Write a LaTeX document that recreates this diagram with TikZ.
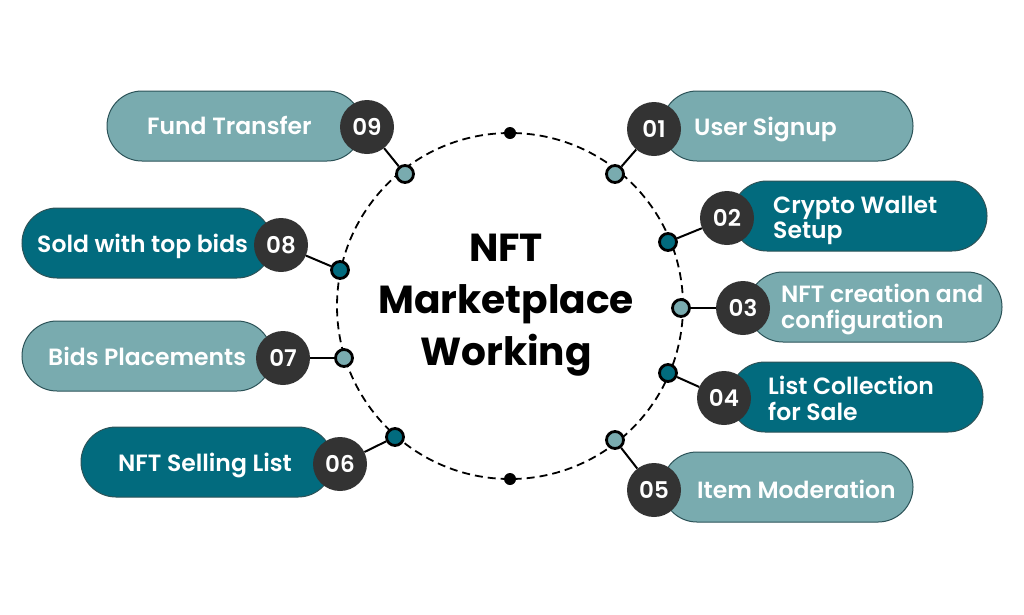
\documentclass[tikz,border=0pt]{standalone}
\usepackage{fontspec}
\setmainfont{Poppins}[BoldFont=Poppins SemiBold]
\newfontfamily\titlefont{Poppins}[UprightFont=* Bold]
\definecolor{lightteal}{HTML}{79ABAF}
\definecolor{darkteal}{HTML}{026B7E}
\definecolor{numdark}{HTML}{333333}
\definecolor{edgeteal}{HTML}{2C5358}
\tikzset{
  x=1pt,y=-1pt,
  pill/.style={draw=edgeteal,line width=1pt,rounded corners=35pt,minimum width=#1,minimum height=70pt,inner sep=0pt,outer sep=0pt},
  pl/.style={pill=#1,fill=lightteal},
  pd/.style={pill=#1,fill=darkteal},
  num/.style={circle,fill=numdark,minimum size=54pt,inner sep=0pt,text=white,font=\fontsize{23}{23}\selectfont\bfseries},
  dotl/.style={circle,draw=black,line width=2.8pt,fill=lightteal,minimum size=17pt,inner sep=0pt},
  dotd/.style={circle,draw=black,line width=2.8pt,fill=darkteal,minimum size=17pt,inner sep=0pt},
  tick/.style={circle,fill=black,minimum size=12pt,inner sep=0pt},
  lab/.style={anchor=west,text=white,inner sep=0pt,align=left,font=\fontsize{23.5}{25.5}\selectfont\bfseries},
  link/.style={draw=black,line width=2pt},
  ring/.style={circle,draw=black,line width=1.8pt,dash pattern=on 8pt off 5pt,minimum size=346pt,inner sep=0pt},
  title/.style={align=center,text=black,font=\fontsize{39.1}{52}\selectfont\titlefont}
}
\begin{document}
\begin{tikzpicture}
\useasboundingbox (0,0) rectangle (1024,614);
\node[ring] (c) at (510,306) {};
\node[tick] (top) at (510,133) {};
\node[tick] (bot) at (510,479) {};
\node[title] (t) at (506,305) {NFT\\Marketplace\\Working};
% pills
\node[pl=251pt] (p1) at (787.5,126) {};
\node[pd=255pt] (p2) at (859.5,216) {};
\node[pl=254pt] (p3) at (875,307) {};
\node[pd=253pt] (p4) at (856.5,397) {};
\node[pl=251pt] (p5) at (787.5,487) {};
\node[pd=252pt] (p6) at (207,462) {};
\node[pl=250pt] (p7) at (147,356) {};
\node[pd=250pt] (p8) at (147,243) {};
\node[pl=255pt] (p9) at (234.5,126) {};
% dots
\node[dotl] (d1) at (615,174) {};
\node[dotd] (d2) at (668,242) {};
\node[dotl] (d3) at (681,308) {};
\node[dotd] (d4) at (668,373) {};
\node[dotl] (d5) at (615,440) {};
\node[dotd] (d6) at (395,437) {};
\node[dotl] (d7) at (344,358) {};
\node[dotd] (d8) at (340,270) {};
\node[dotl] (d9) at (405,174) {};
% numbers
\node[num] (n1) at (654,129) {01};
\node[num] (n2) at (727,218) {02};
\node[num] (n3) at (743,308) {03};
\node[num] (n4) at (724,398) {04};
\node[num] (n5) at (654,490) {05};
\node[num] (n6) at (340,464) {06};
\node[num] (n7) at (283,358) {07};
\node[num] (n8) at (281,245) {08};
\node[num] (n9) at (367,127) {09};
% connectors
\foreach \i in {1,...,9} \draw[link] (d\i) -- (n\i);
% labels
\node[lab] (l1) at (694,129) {User Signup};
\node[lab] (l2) at (773,220.5) {Crypto Wallet\\Setup};
\node[lab] (l3) at (781,309.5) {NFT creation and\\configuration};
\node[lab] (l4) at (768,398.5) {List Collection\\for Sale};
\node[lab] (l5) at (697,489) {Item Moderation};
\node[lab] (l6) at (118,465) {NFT Selling List};
\node[lab] (l7) at (48,356) {Bids Placements};
\node[lab] (l8) at (37,246) {Sold with top bids};
\node[lab] (l9) at (147,125) {Fund Transfer};
\end{tikzpicture}
\end{document}
